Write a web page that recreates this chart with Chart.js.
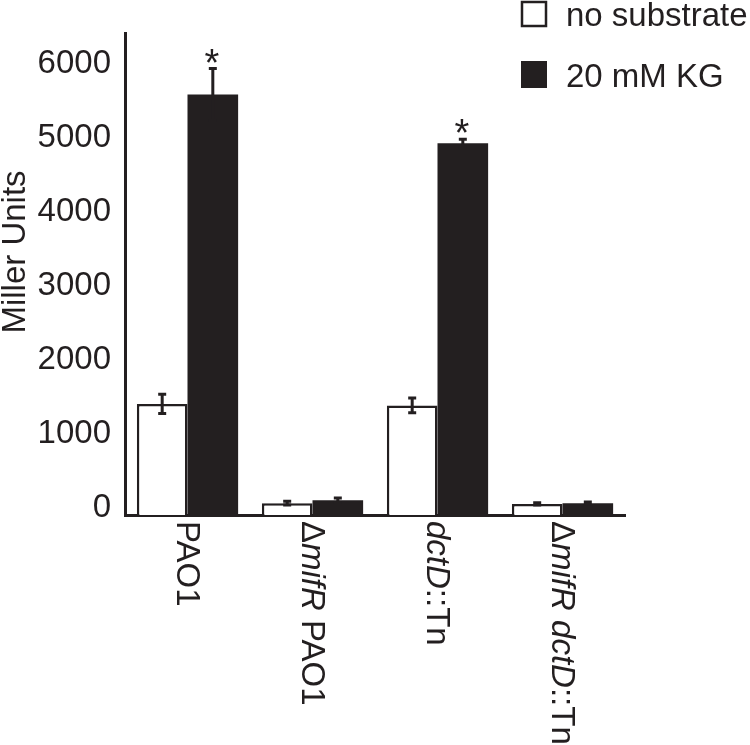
<!DOCTYPE html>
<html>
<head>
<meta charset="utf-8">
<script src="https://cdn.jsdelivr.net/npm/chart.js@4"></script>
<style>
	html, body { margin: 0; padding: 0; background: #fff; }
	#wrap { width: 750px; height: 745px; }
</style>
</head>
<body>
<div id="wrap"><canvas id="millerChart" width="750" height="745"></canvas></div>
<script>
// categories, split into plain / italic pieces so the labels can be drawn mixed
var strains = ['PAO1', 'ΔmifR PAO1', 'dctD::Tn', 'ΔmifR dctD::Tn'];
var strainParts = [
	[['PAO1', false]],
	[['Δ', false], ['mifR', true], [' PAO1', false]],
	[['dctD', true], ['::Tn', false]],
	[['Δ', false], ['mifR', true], [' ', false], ['dctD', true], ['::Tn', false]],
];

var seriesNames = ['no substrate', '20 mM KG'];

var noSubstrate = [1500, 160, 1480, 150];
var noSubstrateErr = [130, 25, 100, 15];

var kg = [5680, 200, 5020, 160];
var kgErr = [350, 30, 55, 15];
var kgStar = [true, false, true, false];

var yTicks = [0, 1000, 2000, 3000, 4000, 5000, 6000];

var ink = '#231f20';
var family = '"Liberation Sans", Arial, sans-serif';

var errorBars = {
	id: 'errorBars',
	afterDatasetsDraw: function(chart) {
		var ctx = chart.ctx;
		var y = chart.scales.y;
		var errs = [noSubstrateErr, kgErr];
		ctx.save();
		ctx.strokeStyle = ink;
		ctx.lineWidth = 3;
		chart.data.datasets.forEach(function(ds, d) {
			var meta = chart.getDatasetMeta(d);
			meta.data.forEach(function(bar, i) {
				var v = ds.data[i];
				var top = y.getPixelForValue(v + errs[d][i]);
				var bot = y.getPixelForValue(v - errs[d][i]);
				ctx.beginPath();
				ctx.moveTo(bar.x, top);
				ctx.lineTo(bar.x, bot);
				ctx.moveTo(bar.x - 4, top);
				ctx.lineTo(bar.x + 4, top);
				ctx.moveTo(bar.x - 4, bot);
				ctx.lineTo(bar.x + 4, bot);
				ctx.stroke();
				if (d == 1 && kgStar[i]) {
					ctx.fillStyle = ink;
					ctx.font = '38px ' + family;
					ctx.textAlign = 'center';
					ctx.textBaseline = 'alphabetic';
					ctx.fillText('*', bar.x - 1, top + 7);
				}
			});
		});
		ctx.restore();
	}
};

var extras = {
	id: 'extras',
	afterDraw: function(chart) {
		var ctx = chart.ctx;
		var x = chart.scales.x;
		ctx.save();
		ctx.fillStyle = ink;
		ctx.textBaseline = 'alphabetic';
		ctx.textAlign = 'left';

		// rotated category labels
		strainParts.forEach(function(parts, i) {
			var cx = x.getPixelForValue(i);
			ctx.save();
			ctx.translate(cx - 10.5, 521);
			ctx.rotate(Math.PI / 2);
			var pos = 0;
			parts.forEach(function(p) {
				ctx.font = (p[1] ? 'italic ' : '') + '33px ' + family;
				ctx.fillText(p[0], pos, 0);
				pos += ctx.measureText(p[0]).width;
			});
			ctx.restore();
		});

		// y title
		ctx.save();
		ctx.translate(25, 252);
		ctx.rotate(-Math.PI / 2);
		ctx.font = '33px ' + family;
		ctx.textAlign = 'center';
		ctx.fillText('Miller Units', 0, 0);
		ctx.restore();

		// legend
		ctx.font = '33px ' + family;
		ctx.lineWidth = 2.5;
		ctx.strokeStyle = ink;
		ctx.fillStyle = '#fff';
		ctx.fillRect(522, 2, 24, 24);
		ctx.strokeRect(522, 2, 24, 24);
		ctx.fillStyle = ink;
		ctx.fillRect(521, 61, 26, 27);
		ctx.fillText(seriesNames[0], 566, 26);
		ctx.fillText(seriesNames[1], 566, 87);
		ctx.restore();
	}
};

var config = {
	type: 'bar',
	data: {
		labels: strains,
		datasets: [
			{
				label: seriesNames[0],
				data: noSubstrate,
				backgroundColor: '#fff',
				borderColor: ink,
				borderWidth: 2.5,
				borderSkipped: 'bottom',
			},
			{
				label: seriesNames[1],
				data: kg,
				backgroundColor: ink,
				borderWidth: 0,
			}
		]
	},
	options: {
		responsive: false,
		animation: false,
		layout: {
			padding: { top: 33, right: 125, left: 0, bottom: 0 }
		},
		categoryPercentage: 0.81,
		barPercentage: 1,
		scales: {
			x: {
				grid: { display: false },
				border: { display: true, color: ink, width: 3 },
				ticks: { display: false },
				afterFit: function(s) { s.height = 230; }
			},
			y: {
				min: 0,
				max: 6500,
				grid: { display: false, drawTicks: false },
				border: { display: true, color: ink, width: 3 },
				afterBuildTicks: function(s) {
					s.ticks = yTicks.map(function(v) { return { value: v }; });
				},
				ticks: {
					autoSkip: false,
					padding: 14,
					labelOffset: -7,
					color: ink,
					font: { family: family, size: 33 },
					callback: function(v) { return String(v); }
				},
				afterFit: function(s) { s.width = 125; }
			}
		},
		plugins: {
			legend: { display: false },
			tooltip: { enabled: false }
		}
	},
	plugins: [errorBars, extras]
};

var millerChart = new Chart(document.getElementById('millerChart'), config);
</script>
</body>
</html>
